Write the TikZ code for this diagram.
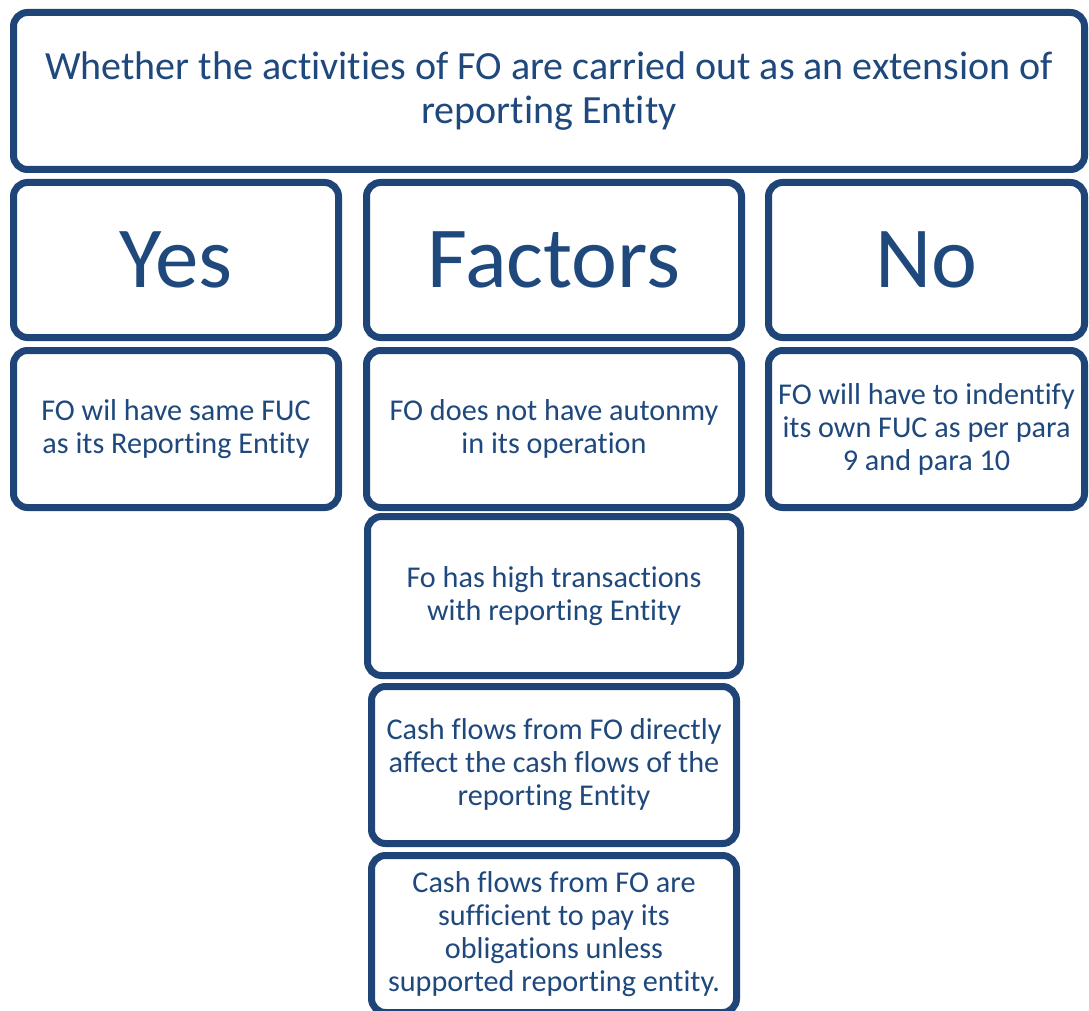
\documentclass[tikz,border=0pt]{standalone}
\usepackage{fontspec}
\setmainfont[Ligatures=NoCommon]{Carlito}
\usetikzlibrary{shadows}
\definecolor{bord}{HTML}{1F4478}
\definecolor{txt}{HTML}{1F497D}
\begin{document}
\begin{tikzpicture}[x=1pt,y=-1pt,
  box/.style={draw=bord, line width=7pt, rounded corners=14pt, fill=white,
    text=txt, align=center, inner sep=0pt,
    drop shadow={opacity=0.18, shadow xshift=2pt, shadow yshift=-3pt}},
  small/.style={font=\fontsize{30.2}{33}\selectfont},
  mid/.style={font=\fontsize{40}{44}\selectfont},
  big/.style={font=\fontsize{87}{90}\selectfont}]
\useasboundingbox (0,0) rectangle (1089,1011);
\clip (0,0) rectangle (1089,1011);
\fill[white] (0,0) rectangle (1089,1011);
\node[box, mid, minimum width=1071pt, minimum height=157pt] (top) at (549,91)
  {Whether the activities of FO are carried out as an extension of\\reporting Entity};
\node[box, big, minimum width=325pt, minimum height=155pt] (yes) at (176,260) {Yes};
\node[box, big, minimum width=375pt, minimum height=155pt] (fac) at (554,260) {Factors};
\node[box, big, minimum width=316pt, minimum height=155pt] (no) at (926.5,260) {No};
\node[box, small, minimum width=325pt, minimum height=157pt] (yesd) at (176,429)
  {FO wil have same FUC\\as its Reporting Entity};
\node[box, small, minimum width=375pt, minimum height=157pt] (facA) at (554,429)
  {FO does not have autonmy\\in its operation};
\node[box, small, minimum width=316pt, minimum height=157pt] (nod) at (926.5,429)
  {FO will have to indentify\\its own FUC as per para\\9 and para 10};
\node[box, small, minimum width=373pt, minimum height=159pt] (facB) at (554,596)
  {Fo has high transactions\\with reporting Entity};
\node[box, small, minimum width=365pt, minimum height=157pt] (facC) at (554,765)
  {Cash flows from FO directly\\affect the cash flows of the\\reporting Entity};
\node[box, small, minimum width=365pt, minimum height=157pt] (facD) at (554,934)
  {Cash flows from FO are\\sufficient to pay its\\obligations unless\\supported reporting entity.};
\end{tikzpicture}
\end{document}
